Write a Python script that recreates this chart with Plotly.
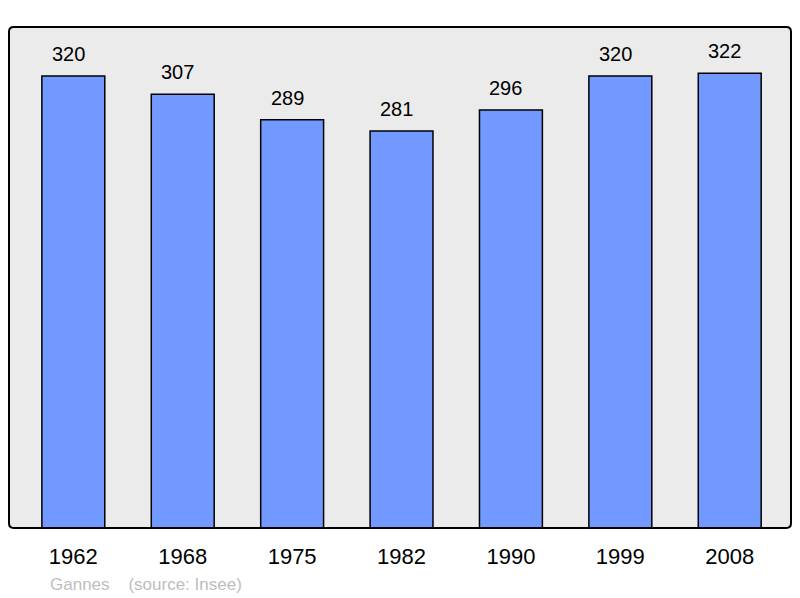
import plotly.graph_objects as go

years = ["1962", "1968", "1975", "1982", "1990", "1999", "2008"]
population = [320, 307, 289, 281, 296, 320, 322]
place = "Gannes"
source = "(source: Insee)"

fig = go.Figure()
fig.add_trace(go.Bar(
    x=years, y=population, width=0.575,
    marker=dict(color="#7199FF", line=dict(color="#000000", width=1.5)),
    hoverinfo="skip",
))

for i, v in enumerate(population):
    fig.add_annotation(x=i, y=v, text=str(v), showarrow=False,
                       yanchor="bottom", yshift=9, xshift=-5,
                       font=dict(family="Liberation Sans, Arial", size=20, color="#000000"))

fig.add_annotation(xref="paper", yref="paper", x=(48-9)/782, y=-(584-528)/501,
                   xanchor="left", yanchor="middle", showarrow=False,
                   text=place + "&nbsp;&nbsp;&nbsp;&nbsp;" + source,
                   font=dict(family="Liberation Sans, Arial", size=17, color="#BDBDBD"))

# rounded frame
r = 0.006
ry = r * 782 / 501
path = (f"M {r},0 L {1-r},0 Q 1,0 1,{ry} L 1,{1-ry} Q 1,1 {1-r},1 "
        f"L {r},1 Q 0,1 0,{1-ry} L 0,{ry} Q 0,0 {r},0 Z")
fig.add_shape(type="path", xref="paper", yref="paper", path=path,
              line=dict(color="#000000", width=2), layer="above")

fig.update_layout(
    width=800, height=598,
    margin=dict(l=9, r=9, t=27, b=70),
    paper_bgcolor="#FFFFFF", plot_bgcolor="#EBEBEB",
    showlegend=False,
    xaxis=dict(type="category", range=[-0.588, 6.56], showgrid=False, zeroline=False,
               showline=False, ticks="", ticklabelstandoff=13,
               tickfont=dict(family="Liberation Sans, Arial", size=22, color="#000000")),
    yaxis=dict(range=[0, 354.7], showgrid=False, zeroline=False, showline=False,
               showticklabels=False, ticks=""),
)

fig.write_html("out.html", config={"displayModeBar": False},
               post_script="document.body.style.margin='0';")
